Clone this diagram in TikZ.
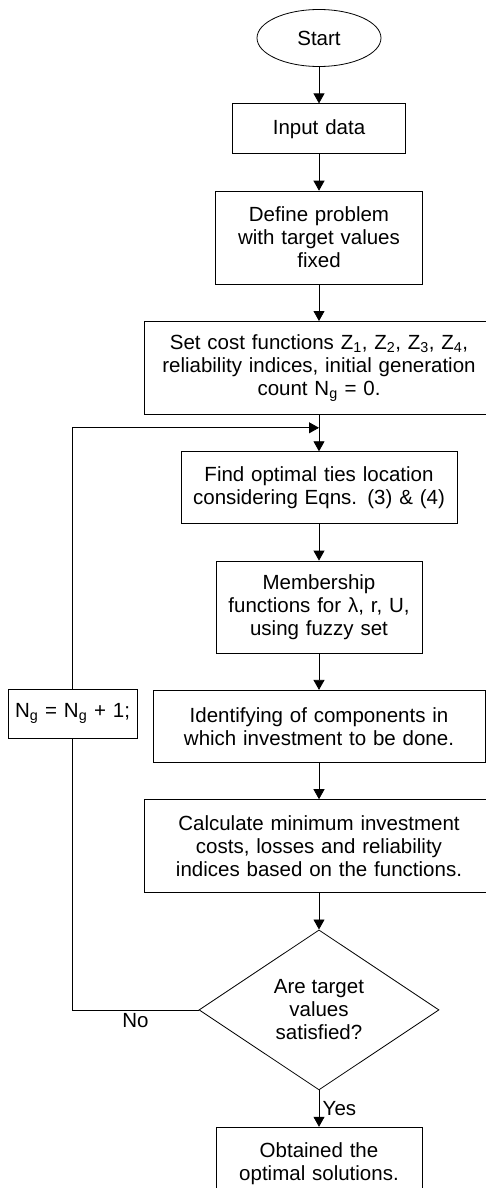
\documentclass[tikz,border=0pt]{standalone}
\usepackage{fontspec}
\setmainfont{Liberation Sans}
\usetikzlibrary{shapes.geometric}
\usetikzlibrary{arrows.meta, chains}
\tikzset{>={Triangle[width=11pt,length=10pt]}}

\begin{document}
\begin{tikzpicture}[
    node distance = 36.5pt,
    start chain = going below,
    every node/.style = {font=\fontsize{20.5pt}{23pt}\selectfont},
    line/.style = {line width=0.8pt},
    box/.style = {draw, line, align=center, inner sep=0pt, on chain},
    term/.style = {draw, line, ellipse, minimum width=124pt,
        minimum height=57pt, inner sep=0pt, on chain},
    decision/.style = {draw, line, diamond, aspect=1.5, minimum width=240pt,
        minimum height=160pt, inner sep=0pt, align=center, on chain}
  ]
  \useasboundingbox (0,0) rectangle (486pt,-1188pt);

  \node[term] (start) at (319pt,-38pt) {Start};
  \node[box, text width=173pt, minimum height=50pt] (input) {Input data};
  \node[box, text width=207pt, minimum height=93pt] (define)
    {Define problem\\ with target values\\ fixed};
  \node[box, text width=350pt, minimum height=93pt] (set)
    {Set cost functions Z\textsubscript{1}, Z\textsubscript{2},
     Z\textsubscript{3}, Z\textsubscript{4},\\ reliability indices, initial generation\\
     count N\textsubscript{g} = 0.};
  \node[box, text width=276pt, minimum height=72pt] (find)
    {Find optimal ties location\\ considering Eqns. (3) \& (4)};
  \node[box, text width=206pt, minimum height=92pt] (member)
    {Membership\\ functions for λ, r, U,\\ using fuzzy set};
  \node[box, text width=332pt, minimum height=72pt] (ident)
    {Identifying of components in\\ which investment to be done.};
  \node[box, text width=350pt, minimum height=93pt] (calc)
    {Calculate minimum investment\\ costs, losses and reliability\\
     indices based on the functions.};
  \node[decision] (check) {Are target\\ values\\ satisfied?};
  \node[box, text width=206pt, minimum height=72pt] (result)
    {Obtained the\\ optimal solutions.};

  \node[draw, line, text width=129pt, minimum height=49pt, inner sep=0pt,
    align=center] (count) at (72.5pt,-713.5pt)
    {N\textsubscript{g} = N\textsubscript{g} + 1;};

  \coordinate (join) at ([yshift=-13pt]set.south);

  \foreach \a/\b in {start/input, input/define, define/set, set/find,
      find/member, member/ident, ident/calc, calc/check}
    \draw[line, ->] (\a) -- (\b);
  \draw[line, ->] (check) -- node[right] {Yes} (result);

  % loop back
  \draw[line] (check.west) -- node[below] {No} (check.west -| count.south)
    -- (count.south);
  \draw[line, ->] (count.north) |- (join);
\end{tikzpicture}
\end{document}
